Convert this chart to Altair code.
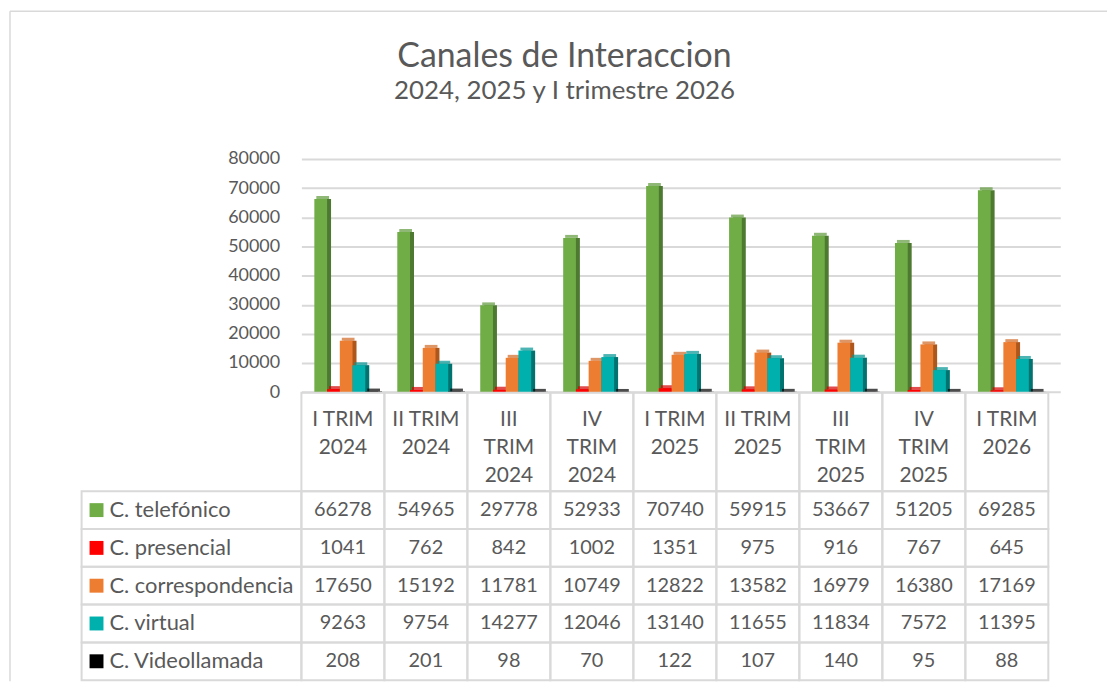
import altair as alt
import pandas as pd

# ---------------- data ----------------
categories = ["I TRIM 2024", "II TRIM 2024", "III TRIM 2024", "IV TRIM 2024",
              "I TRIM 2025", "II TRIM 2025", "III TRIM 2025", "IV TRIM 2025",
              "I TRIM 2026"]
header_labels = ["I TRIM\n2024", "II TRIM\n2024", "III\nTRIM\n2024", "IV\nTRIM\n2024",
                 "I TRIM\n2025", "II TRIM\n2025", "III\nTRIM\n2025", "IV\nTRIM\n2025",
                 "I TRIM\n2026"]
series_names = ["C. telefónico", "C. presencial", "C. correspondencia",
                "C. virtual", "C. Videollamada"]

telefonico = [66278, 54965, 29778, 52933, 70740, 59915, 53667, 51205, 69285]
presencial = [1041, 762, 842, 1002, 1351, 975, 916, 767, 645]
correspondencia = [17650, 15192, 11781, 10749, 12822, 13582, 16979, 16380, 17169]
virtual = [9263, 9754, 14277, 12046, 13140, 11655, 11834, 7572, 11395]
videollamada = [208, 201, 98, 70, 122, 107, 140, 95, 88]

y_ticks = [0, 10000, 20000, 30000, 40000, 50000, 60000, 70000, 80000]

# ---------------- styles ----------------
front_colors = ["#70AD47", "#FF0000", "#ED7D31", "#00B0AD", "#000000"]
top_colors = ["#5F983A", "#D40000", "#D26A25", "#009693", "#000000"]
side_colors = ["#4D7A30", "#A60000", "#AE571D", "#007370", "#000000"]
TEXT = "#595959"
GRID = "#D9D9D9"
FONT = "Lato"

PLOT_W = 763
TABLE_W = 751
LEG_W = 221
BAR_H = 234.4
HEAD_H = 99
ROWS_H = 190
GROUP_W = 64.0          # width of one cluster of 5 bars (px)
BAR_W = GROUP_W / 5
DEPTH_X = 4             # 3-D extrusion, px
DEPTH_Y = 3

values_by_series = [telefonico, presencial, correspondencia, virtual, videollamada]
rows = []
for s, vals in zip(series_names, values_by_series):
    for c, v in zip(categories, vals):
        rows.append({"cat": c, "series": s, "value": v})
df = pd.DataFrame(rows)
df_cat = pd.DataFrame({"cat": categories, "label": header_labels})
df_ser = pd.DataFrame({"series": series_names})
df_one = pd.DataFrame({"k": [0]})

# ---------------- bars ----------------
x_bar = alt.X("cat:N", sort=categories, axis=None,
              scale=alt.Scale(paddingInner=0.2326, paddingOuter=0.1908, align=0.409))


def x_off(shift):
    return alt.XOffset("series:N", sort=series_names,
                       scale=alt.Scale(domain=series_names, paddingInner=0,
                                       paddingOuter=0,
                                       range=[shift, shift + GROUP_W]))


def series_color(colors):
    return alt.Color("series:N", sort=series_names,
                     scale=alt.Scale(domain=series_names, range=colors),
                     legend=None)


y_axis = alt.Axis(values=y_ticks, format="d", title=None, domain=False,
                  ticks=False, labelPadding=22, labelFontSize=18,
                  labelColor=TEXT, labelFont=FONT, gridColor=GRID,
                  gridWidth=2, labelOverlap=False)
y_bar = alt.Y("value:Q", scale=alt.Scale(domain=[0, 80000]), axis=y_axis)

# side face: same bar pushed right
side = alt.Chart(df).mark_bar().encode(
    x=x_bar, xOffset=x_off(DEPTH_X), y=y_bar, color=series_color(side_colors))
# top face: a thick horizontal tick sitting on top of each bar
top = alt.Chart(df).mark_tick(orient="horizontal", thickness=DEPTH_Y, size=BAR_W,
                              yOffset=-DEPTH_Y / 2).encode(
    x=x_bar, xOffset=x_off(DEPTH_X / 2), y=y_bar, color=series_color(top_colors))
# front face
front = alt.Chart(df).mark_bar().encode(
    x=x_bar, xOffset=x_off(0), y=y_bar, color=series_color(front_colors))

bars = alt.layer(side, top, front).resolve_scale(
    color="independent", xOffset="independent").properties(width=PLOT_W, height=BAR_H)

# ---------------- outer frame (top-left spacer) ----------------
border_top = alt.Chart(df_one).mark_rule(color=GRID, strokeWidth=1.5).encode(
    x=alt.value(-72), x2=alt.value(1031), y=alt.value(-148.6), y2=alt.value(-148.6))
border_left = alt.Chart(df_one).mark_rule(color=GRID, strokeWidth=1.5).encode(
    x=alt.value(-72), x2=alt.value(-72), y=alt.value(-148.6), y2=alt.value(525))
spacer_top = alt.layer(border_top, border_left).properties(width=LEG_W, height=BAR_H)

spacer_mid = alt.Chart(df_one).mark_text(text="").properties(width=LEG_W, height=HEAD_H)

# ---------------- header row ----------------
col_x = alt.X("cat:N", sort=categories, axis=None,
              scale=alt.Scale(paddingInner=0, paddingOuter=0))
head_cells = alt.Chart(df_cat).mark_rect(fillOpacity=0, stroke=GRID, strokeWidth=2).encode(
    x=col_x)
head_text = alt.Chart(df_cat).mark_text(
    font=FONT, fontSize=21, color=TEXT, lineBreak="\n", lineHeight=28.5,
    baseline="alphabetic", align="center").encode(
    x=col_x, y=alt.value(33), text="label:N")
header = alt.layer(head_cells, head_text).properties(width=TABLE_W, height=HEAD_H)

# ---------------- data table ----------------
row_y = alt.Y("series:N", sort=series_names, axis=None,
              scale=alt.Scale(paddingInner=0, paddingOuter=0))
cells = alt.Chart(df).mark_rect(fillOpacity=0, stroke=GRID, strokeWidth=2).encode(
    x=col_x, y=row_y)
cell_text = alt.Chart(df).mark_text(
    font=FONT, fontSize=20, color=TEXT, baseline="middle", align="center").encode(
    x=col_x, y=row_y, text=alt.Text("value:Q", format="d"))
values_panel = alt.layer(cells, cell_text).properties(width=TABLE_W, height=ROWS_H)

leg_cells = alt.Chart(df_ser).mark_rect(fillOpacity=0, stroke=GRID, strokeWidth=2).encode(
    y=row_y)
leg_sq = alt.Chart(df_ser).mark_square(size=196, opacity=1).encode(
    x=alt.value(15), y=row_y, color=series_color(front_colors))
leg_text = alt.Chart(df_ser).mark_text(
    font=FONT, fontSize=22, color=TEXT, align="left", baseline="middle").encode(
    x=alt.value(28), y=row_y, text="series:N")
legend_panel = alt.layer(leg_cells, leg_sq, leg_text).properties(width=LEG_W, height=ROWS_H)

# ---------------- assemble ----------------
chart = alt.concat(
    spacer_top, bars, spacer_mid, header, legend_panel, values_panel,
    columns=2, spacing=0, bounds="flush", align="each",
).resolve_scale(color="independent").properties(
    title=alt.TitleParams(
        text="Canales de Interaccion",
        subtitle="2024, 2025 y I trimestre 2026",
        font=FONT, fontSize=34, fontWeight="normal", color=TEXT,
        subtitleFont=FONT, subtitleFontSize=26, subtitleColor=TEXT,
        subtitlePadding=4, anchor="middle", offset=-94, dx=6),
    padding={"left": 0, "top": 0, "right": 0, "bottom": 0},
).configure_view(stroke="transparent")

chart.save("out.html", embed_options={"renderer": "svg", "actions": False})
